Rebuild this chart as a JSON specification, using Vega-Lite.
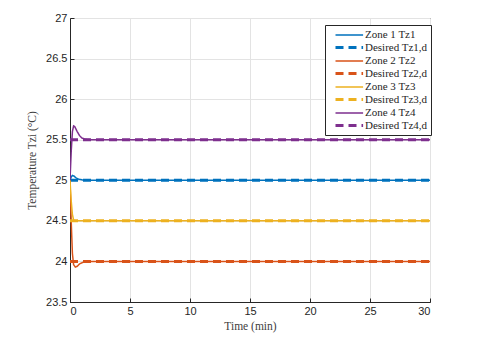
{
  "$schema": "https://vega.github.io/schema/vega-lite/v6.json",
  "width": 360,
  "height": 284,
  "autosize": "none",
  "padding": {"left": 70, "top": 18, "right": 50, "bottom": 38},
  "background": "white",
  "config": {
    "view": {"stroke": "#262626", "strokeWidth": 1},
    "axis": {
      "domainColor": "#262626",
      "tickColor": "#262626",
      "tickSize": -4,
      "labelPadding": 7,
      "gridColor": "#e3e3e3",
      "labelFont": "Liberation Sans",
      "labelFontSize": 11,
      "labelColor": "#262626",
      "titleFont": "Liberation Serif",
      "titleFontSize": 11.5,
      "titleFontWeight": "normal",
      "titleColor": "#404040"
    },
    "legend": {
      "labelFont": "Liberation Serif",
      "labelFontSize": 11.5,
      "labelColor": "#262626"
    }
  },
  "data": {"values": [
    {"s": "Zone 1 Tz1", "t": 0, "v": 25},
    {"s": "Zone 1 Tz1", "t": 0.1, "v": 25.04},
    {"s": "Zone 1 Tz1", "t": 0.2, "v": 25.06},
    {"s": "Zone 1 Tz1", "t": 0.35, "v": 25.05},
    {"s": "Zone 1 Tz1", "t": 0.5, "v": 25.03},
    {"s": "Zone 1 Tz1", "t": 0.7, "v": 25.015},
    {"s": "Zone 1 Tz1", "t": 1.0, "v": 25.005},
    {"s": "Zone 1 Tz1", "t": 1.5, "v": 25},
    {"s": "Zone 1 Tz1", "t": 30, "v": 25},
    {"s": "Desired Tz1,d", "t": 0, "v": 25},
    {"s": "Desired Tz1,d", "t": 30, "v": 25},
    {"s": "Zone 2 Tz2", "t": 0, "v": 25},
    {"s": "Zone 2 Tz2", "t": 0.1, "v": 24.5},
    {"s": "Zone 2 Tz2", "t": 0.2, "v": 24.1},
    {"s": "Zone 2 Tz2", "t": 0.3, "v": 23.96},
    {"s": "Zone 2 Tz2", "t": 0.45, "v": 23.93},
    {"s": "Zone 2 Tz2", "t": 0.6, "v": 23.94},
    {"s": "Zone 2 Tz2", "t": 0.8, "v": 23.97},
    {"s": "Zone 2 Tz2", "t": 1.1, "v": 23.99},
    {"s": "Zone 2 Tz2", "t": 1.5, "v": 24},
    {"s": "Zone 2 Tz2", "t": 30, "v": 24},
    {"s": "Desired Tz2,d", "t": 0, "v": 24},
    {"s": "Desired Tz2,d", "t": 30, "v": 24},
    {"s": "Zone 3 Tz3", "t": 0, "v": 25},
    {"s": "Zone 3 Tz3", "t": 0.1, "v": 24.75},
    {"s": "Zone 3 Tz3", "t": 0.2, "v": 24.58},
    {"s": "Zone 3 Tz3", "t": 0.3, "v": 24.51},
    {"s": "Zone 3 Tz3", "t": 0.4, "v": 24.5},
    {"s": "Zone 3 Tz3", "t": 30, "v": 24.5},
    {"s": "Desired Tz3,d", "t": 0, "v": 24.5},
    {"s": "Desired Tz3,d", "t": 30, "v": 24.5},
    {"s": "Zone 4 Tz4", "t": 0, "v": 25},
    {"s": "Zone 4 Tz4", "t": 0.1, "v": 25.35},
    {"s": "Zone 4 Tz4", "t": 0.2, "v": 25.6},
    {"s": "Zone 4 Tz4", "t": 0.3, "v": 25.67},
    {"s": "Zone 4 Tz4", "t": 0.4, "v": 25.66},
    {"s": "Zone 4 Tz4", "t": 0.6, "v": 25.6},
    {"s": "Zone 4 Tz4", "t": 0.8, "v": 25.55},
    {"s": "Zone 4 Tz4", "t": 1.0, "v": 25.52},
    {"s": "Zone 4 Tz4", "t": 1.3, "v": 25.505},
    {"s": "Zone 4 Tz4", "t": 1.7, "v": 25.5},
    {"s": "Zone 4 Tz4", "t": 30, "v": 25.5},
    {"s": "Desired Tz4,d", "t": 0, "v": 25.5},
    {"s": "Desired Tz4,d", "t": 30, "v": 25.5}
  ]},
  "mark": {"type": "line", "clip": true},
  "encoding": {
    "x": {
      "field": "t", "type": "quantitative",
      "scale": {"domain": [0, 30], "nice": false, "zero": false},
      "axis": {"values": [0, 5, 10, 15, 20, 25, 30], "title": "Time (min)", "titlePadding": 4}
    },
    "y": {
      "field": "v", "type": "quantitative",
      "scale": {"domain": [23.5, 27], "nice": false, "zero": false},
      "axis": {"values": [23.5, 24, 24.5, 25, 25.5, 26, 26.5, 27], "format": "~g", "title": "Temperature Tzi (°C)", "titlePadding": 8}
    },
    "color": {
      "field": "s", "type": "nominal",
      "scale": {
        "domain": ["Zone 1 Tz1", "Desired Tz1,d", "Zone 2 Tz2", "Desired Tz2,d", "Zone 3 Tz3", "Desired Tz3,d", "Zone 4 Tz4", "Desired Tz4,d"],
        "range": ["#0072BD", "#0072BD", "#D95319", "#D95319", "#EDB120", "#EDB120", "#7E2F8E", "#7E2F8E"]
      },
      "legend": {
        "title": null,
        "orient": "none",
        "legendX": 255,
        "legendY": 7,
        "symbolType": "M0,0H4.6",
        "symbolSize": 144,
        "rowPadding": 0,
        "padding": 3,
        "labelFontSize": 11,
        "strokeColor": "#262626",
        "fillColor": "white",
        "labelOffset": 22
      }
    },
    "strokeDash": {
      "field": "s", "type": "nominal",
      "scale": {
        "domain": ["Zone 1 Tz1", "Desired Tz1,d", "Zone 2 Tz2", "Desired Tz2,d", "Zone 3 Tz3", "Desired Tz3,d", "Zone 4 Tz4", "Desired Tz4,d"],
        "range": [[1, 0], [8, 5], [1, 0], [8, 5], [1, 0], [8, 5], [1, 0], [8, 5]]
      },
      "legend": null
    },
    "strokeWidth": {
      "field": "s", "type": "nominal",
      "scale": {
        "type": "ordinal",
        "domain": ["Zone 1 Tz1", "Desired Tz1,d", "Zone 2 Tz2", "Desired Tz2,d", "Zone 3 Tz3", "Desired Tz3,d", "Zone 4 Tz4", "Desired Tz4,d"],
        "range": [1.5, 3, 1.5, 3, 1.5, 3, 1.5, 3]
      },
      "legend": null
    }
  }
}
